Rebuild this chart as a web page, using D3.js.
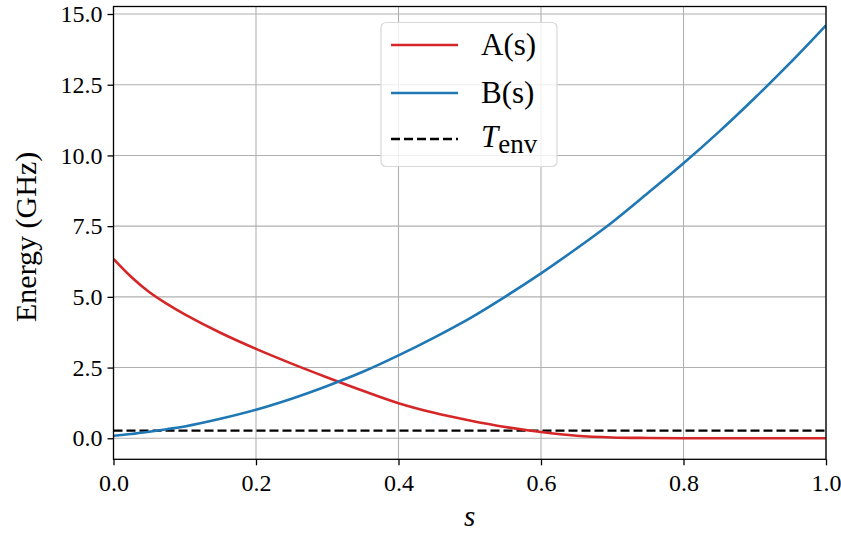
<!DOCTYPE html>
<html>
<head>
<meta charset="utf-8">
<script src="https://cdn.jsdelivr.net/npm/d3@7"></script>
<style>
  html, body { margin: 0; padding: 0; background: #fff; }
  svg { display: block; }
  text { font-family: "Liberation Serif", "DejaVu Serif", serif; fill: #000; }
</style>
</head>
<body>
<svg id="chart" width="841" height="536"></svg>
<script>
// ---- data ----
const sValues = [0, 0.025, 0.05, 0.075, 0.1, 0.15, 0.2, 0.25, 0.3, 0.35, 0.4, 0.45, 0.5, 0.55, 0.6, 0.65, 0.7, 0.75, 0.8, 0.85, 0.9, 0.95, 1.0];
const aValues = [6.34, 5.70, 5.17, 4.75, 4.38, 3.73, 3.16, 2.64, 2.15, 1.68, 1.24, 0.90, 0.63, 0.40, 0.22, 0.09, 0.03, 0.01, 0.0, 0.0, 0.0, 0.0, 0.0];
const bValues = [0.09, 0.15, 0.23, 0.32, 0.42, 0.69, 1.01, 1.40, 1.85, 2.35, 2.93, 3.56, 4.24, 5.01, 5.83, 6.71, 7.64, 8.67, 9.72, 10.84, 12.03, 13.28, 14.60];
const tEnv = 0.27;
const xTicks = [0, 0.2, 0.4, 0.6, 0.8, 1.0];
const yTicks = [0, 2.5, 5.0, 7.5, 10.0, 12.5, 15.0];
const seriesNames = ["A(s)", "B(s)"];
const seriesColors = ["#d62728", "#1f77b4"];

// ---- layout ----
const svg = d3.select("#chart");
const L = 113.5, R = 826, T = 6.5, B = 459.3;

const x = d3.scaleLinear().domain([0, 1]).range([L, R]);
const y = d3.scaleLinear().domain([-0.743, 15.265]).range([B, T]);

// grid
const grid = svg.append("g");
grid.selectAll(".gx").data(xTicks).enter().append("line")
  .attr("x1", d => x(d)).attr("x2", d => x(d)).attr("y1", T).attr("y2", B)
  .attr("stroke", "#b0b0b0").attr("stroke-width", 1.1);
grid.selectAll(".gy").data(yTicks).enter().append("line")
  .attr("y1", d => y(d)).attr("y2", d => y(d)).attr("x1", L).attr("x2", R)
  .attr("stroke", "#b0b0b0").attr("stroke-width", 1.1);

// lines
const dataA = sValues.map((s, i) => [s, aValues[i]]);
const dataB = sValues.map((s, i) => [s, bValues[i]]);
const line = d3.line().x(d => x(d[0])).y(d => y(d[1])).curve(d3.curveCatmullRom.alpha(0.5));

svg.append("clipPath").attr("id", "clip").append("rect")
  .attr("x", L).attr("y", T).attr("width", R - L).attr("height", B - T);
const plot = svg.append("g").attr("clip-path", "url(#clip)");

plot.append("line")
  .attr("x1", x(0)).attr("x2", x(1)).attr("y1", y(tEnv)).attr("y2", y(tEnv))
  .attr("stroke", "#000").attr("stroke-width", 2.4).attr("stroke-dasharray", "9,4");
[dataA, dataB].forEach((d, i) => {
  plot.append("path").datum(d).attr("d", line)
    .attr("fill", "none").attr("stroke", seriesColors[i]).attr("stroke-width", 2.6);
});

// axes
const fmt = d3.format(".1f");
const xAxis = svg.append("g").attr("transform", `translate(0,${B})`)
  .call(d3.axisBottom(x).tickValues(xTicks).tickFormat(fmt).tickSize(6).tickPadding(5));
const yAxis = svg.append("g").attr("transform", `translate(${L},0)`)
  .call(d3.axisLeft(y).tickValues(yTicks).tickFormat(fmt).tickSize(6).tickPadding(5));
[xAxis, yAxis].forEach(g => {
  g.select(".domain").remove();
  g.selectAll(".tick line").attr("stroke", "#000").attr("stroke-width", 1.3);
  g.selectAll(".tick text").style("font-size", "24px").style("font-family", '"Liberation Serif", serif').attr("fill", "#000");
});
xAxis.selectAll(".tick text").attr("dy", "0.85em");

// spines
svg.append("rect").attr("x", L).attr("y", T).attr("width", R - L).attr("height", B - T)
  .attr("fill", "none").attr("stroke", "#000").attr("stroke-width", 1.3);

// axis labels
svg.append("text").attr("x", x(0.5)).attr("y", 526).attr("text-anchor", "middle")
  .style("font-size", "29px").style("font-style", "italic").text("s");
svg.append("text").attr("transform", `translate(36,${(T + B) / 2 + 4}) rotate(-90)`)
  .attr("text-anchor", "middle").style("font-size", "30px").text("Energy (GHz)");

// legend
const lg = svg.append("g");
lg.append("rect").attr("x", 381).attr("y", 22.5).attr("width", 176).attr("height", 144)
  .attr("rx", 5).attr("fill", "#fff").attr("fill-opacity", 0.8)
  .attr("stroke", "#d8d8d8").attr("stroke-width", 1.2);
const rows = [45, 93, 139];
seriesNames.forEach((n, i) => {
  lg.append("line").attr("x1", 391).attr("x2", 458).attr("y1", rows[i]).attr("y2", rows[i])
    .attr("stroke", seriesColors[i]).attr("stroke-width", 2.6);
  lg.append("text").attr("x", 481).attr("y", rows[i] + 10).style("font-size", "31px").text(n);
});
lg.append("line").attr("x1", 391).attr("x2", 458).attr("y1", rows[2]).attr("y2", rows[2])
  .attr("stroke", "#000").attr("stroke-width", 2.4).attr("stroke-dasharray", "9,4");
const tt = lg.append("text").attr("x", 481).attr("y", rows[2] + 8).style("font-size", "31px");
tt.append("tspan").style("font-style", "italic").text("T");
tt.append("tspan").attr("dy", 6).style("font-size", "27px").text("env");
</script>
</body>
</html>
